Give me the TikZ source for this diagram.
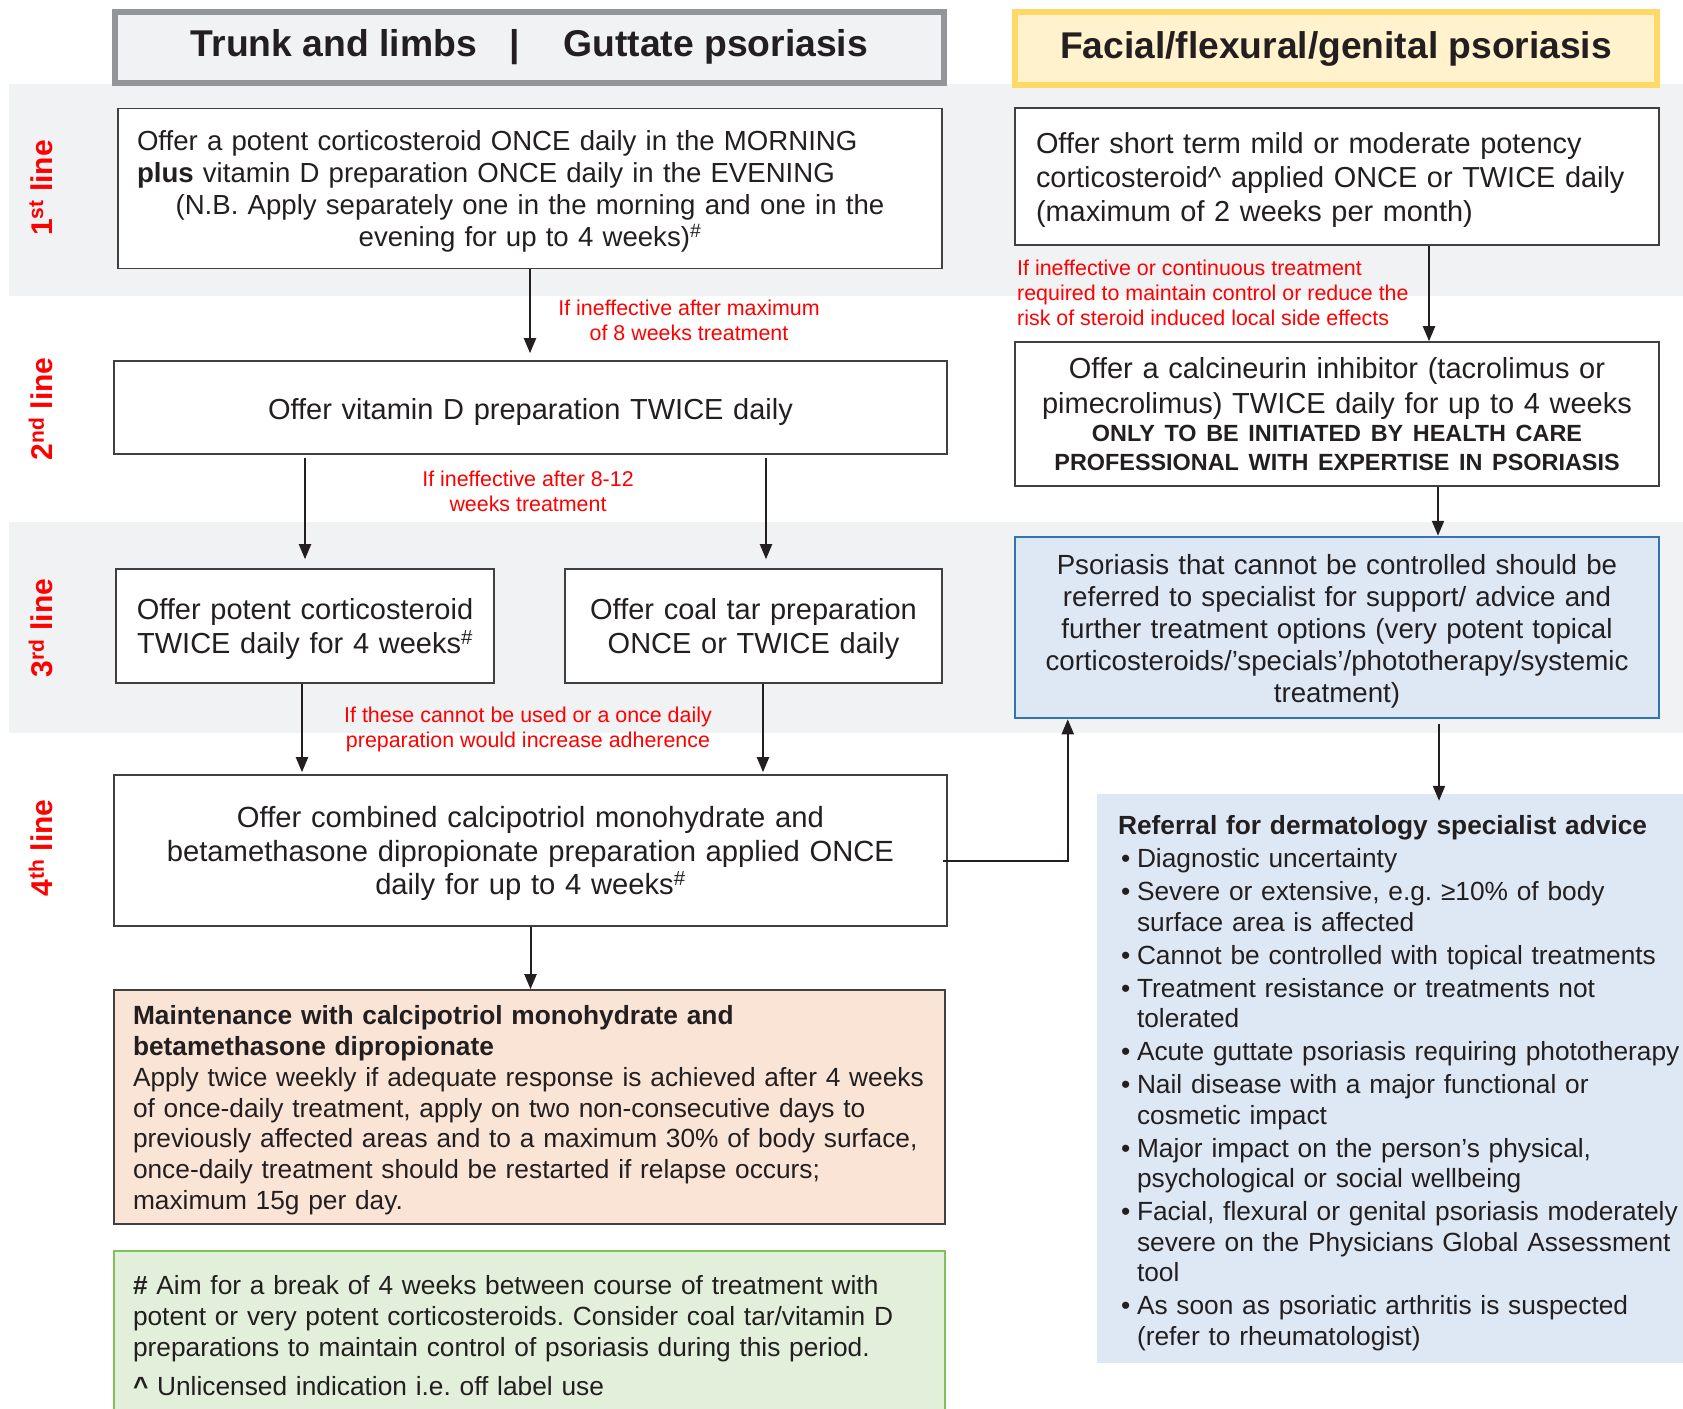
\documentclass[tikz,border=0pt]{standalone}
\usepackage{fontspec}
\setmainfont{Liberation Sans}
\usetikzlibrary{arrows.meta,calc}
\definecolor{bandgray}{RGB}{241,242,244}
\definecolor{hdrgray}{RGB}{147,149,152}
\definecolor{hdrfill}{RGB}{241,242,244}
\definecolor{hdryel}{RGB}{255,217,102}
\definecolor{hdryelfill}{RGB}{255,242,204}
\definecolor{boxline}{RGB}{64,64,64}
\definecolor{txtc}{RGB}{35,31,32}
\definecolor{bluefill}{RGB}{221,232,244}
\definecolor{blueline}{RGB}{46,117,182}
\definecolor{peach}{RGB}{250,228,214}
\definecolor{greenfill}{RGB}{226,239,218}
\definecolor{greenline}{RGB}{132,192,90}
\definecolor{redlbl}{RGB}{255,0,0}
\frenchspacing
\newcommand{\setfs}[2]{\fontsize{#1pt}{#2pt}\selectfont}
\newcommand{\tstrut}[1]{\rule{0pt}{#1pt}}
\newcommand{\bulitem}[1]{\hangindent=19pt\hangafter=1\hspace*{3pt}\makebox[16pt][l]{\textbullet}#1\par}

\begin{document}
\begin{tikzpicture}[x=1pt,y=-1pt,
  every node/.style={text=txtc},
  box/.style={draw=boxline, line width=1.6pt, fill=white, inner xsep=0pt, inner ysep=0pt, text width=#1, minimum width=#1},
  rowlbl/.style={text=redlbl, font=\setfs{30}{34}\bfseries, rotate=90, inner sep=0pt},
  redtxt/.style={text=redlbl, font=\setfs{21.4}{24.7}, inner sep=0pt, align=center},
  arr/.style={draw=txtc, line width=2pt, -{Triangle[length=15pt,width=12pt]}}
]
\useasboundingbox (0,0) rectangle (1683,1408);
\clip (0,0) rectangle (1683,1408);

% background bands
\fill[bandgray] (9,84) rectangle (1700,296);
\fill[bandgray] (9,522) rectangle (1700,733);

% headers
\node[draw=hdrgray, line width=6pt, fill=hdrfill, minimum width=829pt, minimum height=71pt, inner sep=0pt,
      font=\setfs{37.3}{40}\bfseries] (hdrL) at (529.5,47.5)
      {Trunk and limbs\hspace{33pt}|\hspace{43pt}Guttate psoriasis};
\node[draw=hdryel, line width=6pt, fill=hdryelfill, minimum width=642pt, minimum height=73pt, inner sep=0pt,
      font=\setfs{37.2}{40}\bfseries] (hdrR) at (1336,48.5)
      {Facial/flexural/genital psoriasis};

% row labels
\node[rowlbl] (l1) at (41,188) {1\textsuperscript{st} line};
\node[rowlbl] (l2) at (41,409) {2\textsuperscript{nd} line};
\node[rowlbl] (l3) at (41,628) {3\textsuperscript{rd} line};
\node[rowlbl] (l4) at (41,848) {4\textsuperscript{th} line};

% left column
\node[box=824pt, minimum height=160pt, align=left, font=\setfs{27.6}{32}] (b1) at (530,188.5)
  {\parindent=0pt\leftskip=19pt\tstrut{26.4}Offer a potent corticosteroid ONCE daily in the MORNING\\
   \textbf{plus} vitamin D preparation ONCE daily in the EVENING\par
   \centering (N.B. Apply separately one in the morning and one in the\\
   evening for up to 4 weeks)\textsuperscript{\#}\par};

\node[box=833pt, minimum height=93pt, align=center, font=\setfs{29}{34}] (b2) at (530.5,407.5)
  {\tstrut{29.6}Offer vitamin D preparation TWICE daily};

\node[box=378pt, minimum height=114pt, align=center, font=\setfs{29}{34}] (b3a) at (305,626)
  {\tstrut{27.4}Offer potent corticosteroid\\TWICE daily for 4 weeks\textsuperscript{\#}};
\node[box=377pt, minimum height=114pt, align=center, font=\setfs{29}{34}] (b3b) at (753.5,626)
  {\tstrut{27.4}Offer coal tar preparation\\ONCE or TWICE daily};

\node[box=833pt, minimum height=151pt, align=center, font=\setfs{29.2}{33.5}] (b4) at (530.5,850.5)
  {\tstrut{27.6}Offer combined calcipotriol monohydrate and\\
   betamethasone dipropionate preparation applied ONCE\\
   daily for up to 4 weeks\textsuperscript{\#}};

\node[box=831pt, fill=peach, minimum height=234pt, align=left, font=\setfs{26.3}{30.8}] (maint) at (529.5,1107)
  {\parindent=0pt\leftskip=19pt\tstrut{25.5}\textbf{Maintenance with calcipotriol monohydrate and}\\
   \textbf{betamethasone dipropionate}\\
   Apply twice weekly if adequate response is achieved after 4 weeks\\
   of once-daily treatment, apply on two non-consecutive days to\\
   previously affected areas and to a maximum 30\% of body surface,\\
   once-daily treatment should be restarted if relapse occurs;\\
   maximum 15g per day.\par};

\node[box=831pt, draw=greenline, fill=greenfill, minimum height=169pt, align=left, font=\setfs{26.3}{31}] (foot) at (529.5,1335.5)
  {\parindent=0pt\leftskip=19pt {\bfseries\#} Aim for a break of 4 weeks between course of treatment with\\
   potent or very potent corticosteroids. Consider coal tar/vitamin D\\
   preparations to maintain control of psoriasis during this period.\\[8pt]
   \textbf{\textasciicircum} Unlicensed indication i.e. off label use\par};

% right column
\node[box=644pt, minimum height=137pt, align=left, font=\setfs{28.9}{34}] (R1) at (1337,176.5)
  {\parindent=0pt\leftskip=21pt\tstrut{28.5}Offer short term mild or moderate potency\\
   corticosteroid\textasciicircum\ applied ONCE or TWICE daily\\
   (maximum of 2 weeks per month)\par};

\node[box=644pt, minimum height=144pt, align=center, font=\setfs{29}{35}] (R2) at (1337,414)
  {Offer a calcineurin inhibitor (tacrolimus or\\
   pimecrolimus) TWICE daily for up to 4 weeks\par
   {\setfs{23.4}{28.5}\bfseries ONLY TO BE INITIATED BY HEALTH CARE\\
   PROFESSIONAL WITH EXPERTISE IN PSORIASIS\par}};

\node[box=644pt, draw=blueline, line width=2.5pt, fill=bluefill, minimum height=181pt, align=center, font=\setfs{27.7}{32}] (R3) at (1337,627.5)
  {\tstrut{28.7}Psoriasis that cannot be controlled should be\\
   referred to specialist for support/ advice and\\
   further treatment options (very potent topical\\
   corticosteroids/’specials’/phototherapy/systemic\\
   treatment)};

\node[fill=bluefill, inner xsep=0pt, inner ysep=0pt, text width=603pt, minimum height=569pt, align=left,
      font=\setfs{26.3}{30.5}] (ref) at (1398.5,1078.5)
  {\parindent=0pt\leftskip=21pt\parskip=2.5pt
   \tstrut{28.8}\textbf{Referral for dermatology specialist advice}\par
   \bulitem{Diagnostic uncertainty}
   \bulitem{Severe or extensive, e.g. ≥10\% of body\newline surface area is affected}
   \bulitem{Cannot be controlled with topical treatments}
   \bulitem{Treatment resistance or treatments not\newline tolerated}
   \bulitem{Acute guttate psoriasis requiring phototherapy}
   \bulitem{Nail disease with a major functional or\newline cosmetic impact}
   \bulitem{Major impact on the person’s physical,\newline psychological or social wellbeing}
   \bulitem{Facial, flexural or genital psoriasis moderately\newline severe on the Physicians Global Assessment\newline tool}
   \bulitem{As soon as psoriatic arthritis is suspected\newline (refer to rheumatologist)}};

% red labels
\node[redtxt] (lab1) at (689,320.5) {If ineffective after maximum\\of 8 weeks treatment};
\node[redtxt] (lab2) at (528,491.5) {If ineffective after 8-12\\weeks treatment};
\node[redtxt] (lab3) at (528,729.5) {If these cannot be used or a once daily\\preparation would increase adherence};
\node[redtxt, align=left, anchor=west] (lab4) at (1017,293)
  {If ineffective or continuous treatment\\required to maintain control or reduce the\\risk of steroid induced local side effects};

% connectors
\draw[arr, shorten >=7pt] (b1.south) -- (b1.south |- b2.north);
\draw[arr, shorten <=3pt, shorten >=9pt] (b3a.north |- b2.south) -- (b3a.north);
\coordinate (b3bin) at ([xshift=12.5pt]b3b.north);
\draw[arr, shorten <=3pt, shorten >=9pt] (b3bin |- b2.south) -- (b3bin);
\coordinate (b4inA) at ([xshift=-3pt]b3a.south |- b4.north);
\draw[arr, shorten >=2pt] (b4inA |- b3a.south) -- (b4inA);
\coordinate (b4inB) at ([xshift=9.5pt]b3b.south |- b4.north);
\draw[arr, shorten >=2pt] (b4inB |- b3b.south) -- (b4inB);
\draw[arr] (b4.south) -- (b4.south |- maint.north);
\draw[arr] ([xshift=-5pt,yshift=-10.5pt]b4.east) -| ([xshift=54pt]R3.south west);
\draw[arr] ([xshift=92pt]R1.south) -- ([xshift=92pt]R2.north);
\draw[arr] ([xshift=101pt]R2.south) -- ([xshift=101pt]R3.north);
\coordinate (refin) at ([xshift=40.5pt,yshift=-7pt]ref.north);
\draw[arr] ([xshift=102pt,yshift=-5pt]R3.south) -- (refin);
\end{tikzpicture}
\end{document}
